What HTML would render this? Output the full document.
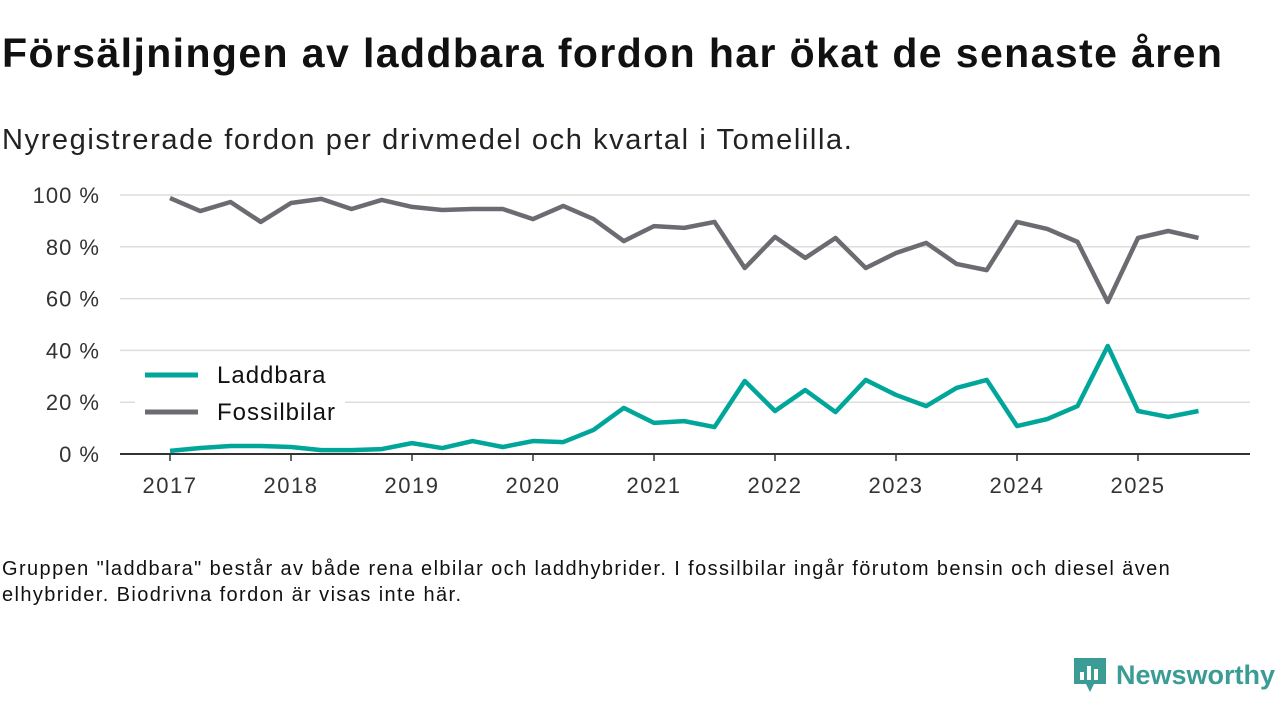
<!DOCTYPE html>
<html><head><meta charset="utf-8"><style>
body{margin:0;width:1280px;height:720px;background:#fff;font-family:"Liberation Sans","DejaVu Sans",sans-serif;color:#111;overflow:hidden;position:relative}
#t{position:absolute;left:2px;top:30px;font-size:41px;font-weight:bold;letter-spacing:1.4px;white-space:nowrap}
#s{position:absolute;left:2px;top:124px;font-size:29px;color:#222;letter-spacing:1.6px;white-space:nowrap}
#f{position:absolute;left:2px;top:556px;font-size:20px;line-height:26px;width:1215px;color:#111;letter-spacing:1.4px}
#logo{position:absolute;left:1072px;top:656px}
svg text{font-family:"Liberation Sans","DejaVu Sans",sans-serif}
</style></head><body>
<div id="t">Försäljningen av laddbara fordon har ökat de senaste åren</div>
<div id="s">Nyregistrerade fordon per drivmedel och kvartal i Tomelilla.</div>
<svg id="c" width="1280" height="720" style="position:absolute;left:0;top:0"></svg>
<div id="f">Gruppen "laddbara" består av både rena elbilar och laddhybrider. I fossilbilar ingår förutom bensin och diesel även elhybrider. Biodrivna fordon är visas inte här.</div>
<div id="logo" style="display:flex;align-items:center">
<svg width="36" height="38"><path d="M2 2h32v26H22l-4 8-4-8H2z" fill="#3a9c94"/><rect x="8" y="16" width="4" height="8" fill="#fff"/><rect x="15" y="10" width="4" height="14" fill="#fff"/><rect x="22" y="13" width="4" height="11" fill="#fff"/></svg>
<span style="font-size:27px;font-weight:bold;color:#3a9c94;margin-left:8px">Newsworthy</span></div>
<script>
const years=[2017,2018,2019,2020,2021,2022,2023,2024,2025];
const yTicks=[0,20,40,60,80,100];
const fossil=[98.8,93.8,97.3,89.6,96.9,98.5,94.6,98.1,95.4,94.2,94.6,94.6,90.7,95.8,90.7,82.2,88.0,87.3,89.6,71.8,83.8,75.7,83.4,71.8,77.6,81.5,73.4,71.0,89.6,86.9,81.9,58.7,83.4,86.1,83.4];
const laddbara=[1.2,2.3,3.1,3.1,2.7,1.5,1.5,1.9,4.2,2.3,5.0,2.7,5.0,4.6,9.3,17.8,12.0,12.7,10.4,28.2,16.6,24.7,16.2,28.6,22.8,18.5,25.5,28.6,10.8,13.5,18.5,41.7,16.6,14.3,16.6];
const NS="http://www.w3.org/2000/svg",svg=document.getElementById('c');
const X=t=>170+(t-2017)*121, Y=v=>454-v*2.59;
function el(tag,a,p){const e=document.createElementNS(NS,tag);for(const k in a)e.setAttribute(k,a[k]);(p||svg).appendChild(e);return e;}
yTicks.forEach(v=>{
 if(v>0){const g=el('line',{x1:120,x2:1250,y1:Y(v),y2:Y(v),stroke:'#ddd','stroke-width':1.5});
 
 }
 const t=el('text',{x:100,y:Y(v)+8,'text-anchor':'end','font-size':22,fill:'#333','letter-spacing':1});t.textContent=v+' %';
 
 
});
const ax=el('line',{x1:120,x2:1250,y1:454,y2:454,stroke:'#333','stroke-width':2});


years.forEach(y=>{
 const tk=el('line',{x1:X(y),x2:X(y),y1:454,y2:461,stroke:'#333','stroke-width':1.5});
 
 
 const t=el('text',{x:X(y),y:493,'text-anchor':'middle','font-size':22,fill:'#333','letter-spacing':1.5});t.textContent=y;
 
 
});
function line(data,color,name){
 const d=data.map((v,i)=>(i?'L':'M')+X(2017+i/4)+' '+Y(v)).join(' ');
 const p=el('path',{d:d,fill:'none',stroke:color,'stroke-width':4.5,'stroke-linejoin':'round'});
 
 
}
line(fossil,'#6c6b72','fossilbilar-line');
const lb=el('rect',{x:135,y:355,width:210,height:72,fill:'#fff'});


line(laddbara,'#00a69a','laddbara-line');
[['Laddbara','#00a69a',375],['Fossilbilar','#6c6b72',412]].forEach(([n,c,y])=>{
 const l=el('line',{x1:145,x2:198,y1:y,y2:y,stroke:c,'stroke-width':5});
 
 
 const t=el('text',{x:217,y:y+8,'font-size':24,fill:'#111','letter-spacing':1});t.textContent=n;
 
 
});
</script>
</body></html>
